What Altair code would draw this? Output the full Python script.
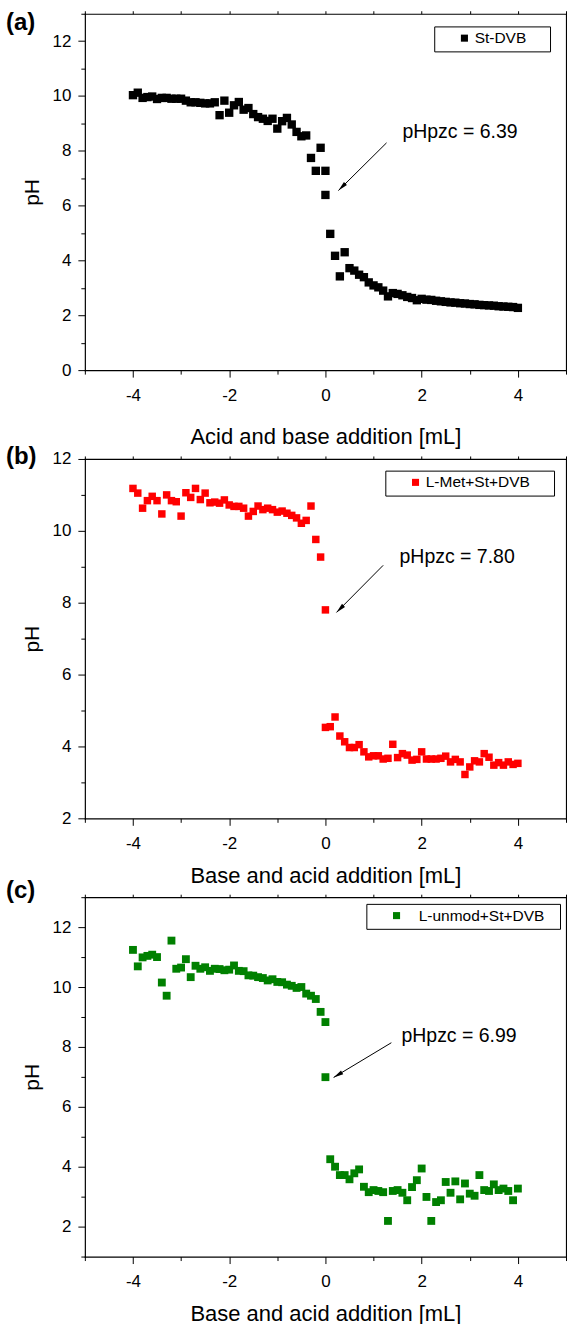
import altair as alt
import pandas as pd

FONT = "Liberation Sans"

# ---------------- data ----------------
# (a) St-DVB
a_x = [-4.0, -3.9, -3.8, -3.7, -3.6, -3.5, -3.4, -3.3, -3.2, -3.1, -3.0, -2.9, -2.8, -2.7,
       -2.6, -2.5, -2.4, -2.3, -2.2, -2.1, -2.0, -1.9, -1.8, -1.7, -1.6, -1.5, -1.4, -1.3,
       -1.2, -1.1, -1.0, -0.9, -0.8, -0.7, -0.6, -0.5, -0.4, -0.3, -0.2, -0.1, 0.0, 0.0,
       0.1, 0.2, 0.3, 0.4, 0.5, 0.6, 0.7, 0.8, 0.9, 1.0, 1.1, 1.2, 1.3, 1.4, 1.5, 1.6, 1.7,
       1.8, 1.9, 2.0, 2.1, 2.2, 2.3, 2.4, 2.5, 2.6, 2.7, 2.8, 2.9, 3.0, 3.1, 3.2, 3.3, 3.4,
       3.5, 3.6, 3.7, 3.8, 3.9, 4.0]
a_y = [10.03, 10.12, 9.93, 9.96, 9.98, 9.89, 9.93, 9.93, 9.90, 9.90, 9.90, 9.83, 9.77, 9.77,
       9.75, 9.73, 9.73, 9.77, 9.30, 9.83, 9.39, 9.66, 9.78, 9.50, 9.56, 9.34, 9.23, 9.17,
       9.09, 9.17, 8.81, 9.08, 9.20, 8.96, 8.69, 8.53, 8.56, 7.74, 7.27, 8.11, 7.27, 6.39,
       4.97, 4.17, 3.42, 4.30, 3.72, 3.63, 3.48, 3.39, 3.20, 3.09, 3.02, 2.90, 2.69, 2.81,
       2.78, 2.73, 2.67, 2.63, 2.55, 2.60, 2.57, 2.56, 2.53, 2.51, 2.49, 2.47, 2.46, 2.44,
       2.43, 2.41, 2.40, 2.38, 2.37, 2.36, 2.35, 2.33, 2.32, 2.31, 2.30, 2.27]

# (b) L-Met+St+DVB
b_x = [-4.0, -3.9, -3.8, -3.7, -3.6, -3.5, -3.4, -3.3, -3.2, -3.1, -3.0, -2.9, -2.8, -2.7,
       -2.6, -2.5, -2.4, -2.3, -2.2, -2.1, -2.0, -1.9, -1.8, -1.7, -1.6, -1.5, -1.4, -1.3,
       -1.2, -1.1, -1.0, -0.9, -0.8, -0.7, -0.6, -0.5, -0.4, -0.3, -0.2, -0.1, 0.0,
       0.0, 0.1, 0.2, 0.3, 0.4, 0.5, 0.6, 0.7, 0.8, 0.9, 1.0, 1.1, 1.2, 1.3, 1.4, 1.5, 1.6,
       1.7, 1.8, 1.9, 2.0, 2.1, 2.2, 2.3, 2.4, 2.5, 2.6, 2.7, 2.8, 2.9, 3.0, 3.1, 3.2, 3.3,
       3.4, 3.5, 3.6, 3.7, 3.8, 3.9, 4.0]
b_y = [11.18, 11.05, 10.63, 10.84, 10.96, 10.84, 10.47, 11.00, 10.84, 10.81, 10.41, 11.06,
       10.93, 11.18, 10.87, 11.05, 10.78, 10.80, 10.77, 10.86, 10.72, 10.68, 10.68, 10.63,
       10.41, 10.54, 10.69, 10.59, 10.63, 10.59, 10.52, 10.55, 10.49, 10.43, 10.36, 10.21,
       10.29, 10.69, 9.76, 9.27, 7.80,
       4.53, 4.55, 4.82, 4.29, 4.13, 3.97, 3.97, 4.05, 3.85, 3.71, 3.74, 3.74, 3.65, 3.67,
       4.06, 3.69, 3.80, 3.76, 3.62, 3.64, 3.85, 3.65, 3.65, 3.65, 3.67, 3.73, 3.57, 3.64,
       3.57, 3.22, 3.43, 3.60, 3.57, 3.80, 3.70, 3.48, 3.55, 3.48, 3.57, 3.50, 3.53]

# (c) L-unmod+St+DVB
c_x = [-4.0, -3.9, -3.8, -3.7, -3.6, -3.5, -3.4, -3.3, -3.2, -3.1, -3.0, -2.9, -2.8, -2.7,
       -2.6, -2.5, -2.4, -2.3, -2.2, -2.1, -2.0, -1.9, -1.8, -1.7, -1.6, -1.5, -1.4, -1.3,
       -1.2, -1.1, -1.0, -0.9, -0.8, -0.7, -0.6, -0.5, -0.4, -0.3, -0.2, -0.1, 0.0, 0.0,
       0.1, 0.2, 0.3, 0.4, 0.5, 0.6, 0.7, 0.8, 0.9, 1.0, 1.1, 1.2, 1.3, 1.4, 1.5, 1.6, 1.7,
       1.8, 1.9, 2.0, 2.1, 2.2, 2.3, 2.4, 2.5, 2.6, 2.7, 2.8, 2.9, 3.0, 3.1, 3.2, 3.3, 3.4,
       3.5, 3.6, 3.7, 3.8, 3.9, 4.0]
c_y = [11.24, 10.69, 10.99, 11.04, 11.08, 11.00, 10.15, 9.71, 11.55, 10.61, 10.65, 10.93,
       10.33, 10.71, 10.61, 10.66, 10.54, 10.61, 10.60, 10.56, 10.58, 10.72, 10.54, 10.53,
       10.39, 10.38, 10.33, 10.30, 10.22, 10.26, 10.17, 10.16, 10.08, 10.04, 9.97, 10.00,
       9.78, 9.71, 9.60, 9.17, 8.83, 6.99,
       4.25, 4.00, 3.72, 3.72, 3.58, 3.78, 3.91, 3.33, 3.15, 3.22, 3.19, 3.15, 2.19, 3.19,
       3.22, 3.13, 2.88, 3.32, 3.55, 3.94, 2.99, 2.19, 2.82, 2.88, 3.49, 3.13, 3.51, 2.91,
       3.44, 3.10, 3.03, 3.72, 3.22, 3.19, 3.41, 3.22, 3.27, 3.19, 2.88, 3.27]

series_names = ["St-DVB", "L-Met+St+DVB", "L-unmod+St+DVB"]
series_colors = ["#000000", "#ff0000", "#008000"]
panel_letters = ["(a)", "(b)", "(c)"]
x_titles = ["Acid and base addition [mL]", "Base and acid addition [mL]",
            "Base and acid addition [mL]"]

# annotations: text position and arrow (start -> tip) in data units
ann_text = ["pHpzc = 6.39", "pHpzc = 7.80", "pHpzc = 6.99"]
ann_tx = [1.60, 1.54, 1.58]
ann_ty = [8.69, 9.26, 8.38]
ann_x1 = [1.27, 1.20, 1.37]
ann_y1 = [8.29, 9.04, 8.14]
ann_x2 = [0.27, 0.23, 0.17]
ann_y2 = [6.55, 7.73, 6.98]
ann_angle = [225, 225, 239]

y_domains = [[0, 13], [2, 12], [1, 13]]
x_major = [-4, -2, 0, 2, 4]
x_minor = [-5, -3, -1, 1, 3, 5]
x_all = list(range(-5, 6))

ARROW = "M0,0L0.45,2.1L-0.45,2.1Z"
W = 482
ZW = "\u200b"   # keeps the trailing legend padding from being trimmed


def panel(i, xs, ys, msize, plot_h, extra, xtitle_pad, leg, letter_y, top_ext):
    name, color = series_names[i], series_colors[i]
    lo, hi = y_domains[i]
    y_major = [v for v in range(lo, hi + 1) if v % 2 == 0]
    y_minor = [v for v in range(lo, hi + 1) if v % 2 == 1]
    pts = pd.DataFrame({"x": xs, "y": ys, "series": name})
    ann = pd.DataFrame({"text": [ann_text[i]], "tx": [ann_tx[i]], "ty": [ann_ty[i]],
                        "x1": [ann_x1[i]], "y1": [ann_y1[i]], "x2": [ann_x2[i]],
                        "y2": [ann_y2[i]], "angle": [ann_angle[i]]})
    xsc = alt.Scale(domain=[-5, 5], nice=False, zero=False)
    ysc = alt.Scale(domain=[lo, hi], range=[plot_h, 0], nice=False, zero=False)
    common = dict(grid=False, tickColor="black", tickWidth=1, domainColor="black",
                  domainWidth=1.2, domainCap="square", labelColor="black",
                  titleColor="black", labelFont=FONT, titleFont=FONT)
    xmaj = alt.Axis(orient="bottom", offset=-extra, values=x_major, tickSize=7,
                    labelPadding=10, labelFontSize=17, labelExpr="'' + datum.value",
                    title=x_titles[i], titleFontSize=22, titleFontWeight="normal",
                    titlePadding=xtitle_pad, domain=True, **common)
    ymaj = alt.Axis(orient="left", values=y_major, tickSize=7, labelPadding=7,
                    labelFontSize=17, labelExpr="'' + datum.value", title="pH",
                    titleFontSize=21, titleFontWeight="normal", titlePadding=9.5,
                    domain=True, **common)
    xmin = alt.Axis(orient="bottom", offset=-extra, values=x_minor, tickSize=4,
                    labels=False, title=None, domain=False, **common)
    ymin = alt.Axis(orient="left", values=y_minor, tickSize=4, labels=False, title=None,
                    domain=False, **common)
    xtop = alt.Axis(orient="top", values=x_all, tickSize=3, labels=False, title=None,
                    domain=True, **common)
    yright = alt.Axis(orient="right", values=y_major, ticks=False, labels=False,
                      title=None, domain=True, **common)

    points = alt.Chart(pts).mark_point(shape="square", filled=True, size=msize, opacity=1,
                                       strokeWidth=0).encode(
        x=alt.X("x:Q", scale=xsc, axis=xmaj),
        y=alt.Y("y:Q", scale=ysc, axis=ymaj),
        color=alt.Color("series:N", scale=alt.Scale(domain=[name], range=[color]),
                        legend=alt.Legend(title=None, orient="none", legendX=leg["lx"],
                                          legendY=leg["ly"], strokeColor="black",
                                          fillColor="white", padding=4,
                                          symbolType="square", symbolSize=50,
                                          symbolStrokeWidth=0, symbolOffset=18.5,
                                          labelOffset=leg["loff"], labelFontSize=15.5,
                                          labelFont=FONT, labelColor="black",
                                          labelLimit=400,
                                          labelExpr="datum.label + '" + leg["pad"] + ZW + "'")),
    )
    rule = alt.Chart(ann).mark_rule(color="black", strokeWidth=1).encode(
        x=alt.X("x1:Q", scale=xsc, axis=xmin),
        y=alt.Y("y1:Q", scale=ysc, axis=ymin),
        x2="x2:Q", y2="y2:Q",
    )
    head = alt.Chart(ann).mark_point(shape=ARROW, filled=True, size=90, color="black",
                                     opacity=1, strokeWidth=0).encode(
        x=alt.X("x2:Q", scale=xsc, axis=None),
        y=alt.Y("y2:Q", scale=ysc, axis=yright),
        angle=alt.Angle("angle:Q", scale=None),
    )
    text = alt.Chart(ann).mark_text(align="left", baseline="middle", font=FONT,
                                    fontSize=19.5, color="black").encode(
        x=alt.X("tx:Q", scale=xsc, axis=xtop),
        y=alt.Y("ty:Q", scale=ysc, axis=None),
        text="text:N",
    )
    letter = alt.Chart(pd.DataFrame({"lab": [panel_letters[i]]})).mark_text(
        align="left", baseline="alphabetic", font=FONT, fontSize=24,
        fontWeight="bold", color="black").encode(
        x=alt.value(-79), y=alt.value(letter_y), text="lab:N")
    layers = [points, rule, head, text, letter]
    if top_ext > 0:
        layers.append(alt.Chart(ann).mark_rule(strokeWidth=0, strokeOpacity=0).encode(
            x=alt.value(0), y=alt.value(-top_ext), y2=alt.value(0)))
    return alt.layer(*layers).resolve_axis(x="independent", y="independent").properties(
        width=W, height=plot_h + extra)


pa = panel(0, a_x, a_y, 70, 357, 10, 24,
           dict(lx=350, ly=12.7, loff=2.5, pad="\u2003\u00a0"), 16, 9.5)
pb = panel(1, b_x, b_y, 56, 360, 0, 14,
           dict(lx=301, ly=11.7, loff=2.5, pad="\u2003\u00a0"), 4.7, 0)
pc = panel(2, c_x, c_y, 62, 360, 0, 14,
           dict(lx=282, ly=6.7, loff=14.5, pad="\u2002\u2009"), 0.7, 0)

chart = alt.vconcat(pa, pb, pc, spacing=79, bounds="flush").resolve_scale(
    color="independent", x="independent", y="independent").properties(
    padding={"left": 5, "top": 2.6, "right": 0, "bottom": 0},
    background="white",
).configure_view(stroke="transparent")

chart.save("out.html", embed_options={"renderer": "svg", "actions": False})
